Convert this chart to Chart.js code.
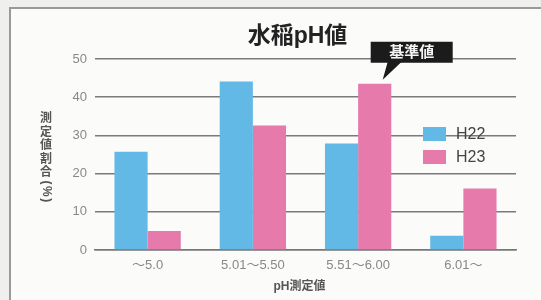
<!DOCTYPE html>
<html><head><meta charset="utf-8">
<script src="https://cdn.jsdelivr.net/npm/chart.js@4.4.1/dist/chart.umd.min.js"></script>
<style>
html,body{margin:0;padding:0;background:#efefed;}
#wrap{width:541px;height:300px;position:relative;}
</style></head>
<body><div id="wrap"><canvas id="c"></canvas></div>
<script>
const categories = ["～5.0", "5.01～5.50", "5.51～6.00", "6.01～"];
const seriesNames = ["H22", "H23"];
const valuesH22 = [25.7, 44.1, 27.9, 3.7];
const valuesH23 = [5.0, 32.6, 43.5, 16.1];
const yTicks = [0, 10, 20, 30, 40, 50];
const chartTitle = "水稲pH値";
const yTitle = "測定値割合(%)";
const xTitle = "pH測定値";
const calloutText = "基準値";

const FONT = "'Liberation Sans', 'Noto Sans CJK JP', sans-serif";
const BLUE = "#63b9e6";
const PINK = "#e67aaa";

const framePlugin = {
  id: 'frame',
  beforeDraw(chart) {
    const ctx = chart.ctx;
    ctx.save();
    ctx.fillStyle = '#efefed';
    ctx.fillRect(0, 0, chart.width, chart.height);
    ctx.fillStyle = '#fbfbfa';
    ctx.fillRect(10, 8, chart.width, chart.height);
    ctx.strokeStyle = '#9a9a9a';
    ctx.lineWidth = 2;
    ctx.beginPath();
    ctx.moveTo(10, chart.height + 2);
    ctx.lineTo(10, 8);
    ctx.lineTo(chart.width + 2, 8);
    ctx.stroke();
    ctx.restore();
  }
};

const textPlugin = {
  id: 'texts',
  afterDraw(chart) {
    const ctx = chart.ctx;
    const ca = chart.chartArea;
    ctx.save();
    // title
    ctx.fillStyle = '#222';
    ctx.font = "bold 23px " + FONT;
    ctx.textAlign = 'center';
    ctx.textBaseline = 'middle';
    ctx.fillText(chartTitle, (ca.left + ca.right) / 2 - 8, 37);
    // x title
    ctx.fillStyle = '#555';
    ctx.font = "bold 12px " + FONT;
    ctx.fillText(xTitle, (ca.left + ca.right) / 2 - 6, 287);
    // y title (vertical)
    ctx.font = "bold 12px " + FONT;
    let y = 119;
    const x = 46;
    for (const ch of yTitle) {
      if (/[()%]/.test(ch)) {
        ctx.save();
        const w = ctx.measureText(ch).width;
        ctx.translate(x, y + w / 2 - 6);
        ctx.rotate(Math.PI / 2);
        ctx.fillText(ch, 0, 0);
        ctx.restore();
        y += w + 1.5;
      } else {
        ctx.fillText(ch, x, y);
        y += 13.5;
      }
    }
    // legend
    const lx = ca.right - 93;
    let ly = 127;
    ctx.textAlign = 'left';
    ctx.font = "16px " + FONT;
    chart.data.datasets.forEach(ds => {
      ctx.fillStyle = ds.backgroundColor;
      ctx.fillRect(lx, ly, 23, 14);
      ctx.fillStyle = '#444';
      ctx.fillText(ds.label, lx + 33, ly + 8);
      ly += 23;
    });
    // callout on H23 bar of 3rd category
    const bar = chart.getDatasetMeta(1).data[2];
    const tx = bar.x + 8, ty = bar.y - 4;
    const bx = tx - 12, by = ty - 38, bw = 82, bh = 21;
    ctx.fillStyle = '#1b1b1b';
    ctx.beginPath();
    ctx.rect(bx, by, bw, bh);
    ctx.fill();
    ctx.beginPath();
    ctx.moveTo(tx + 5, by + bh - 1);
    ctx.lineTo(tx, ty);
    ctx.lineTo(tx + 19, by + bh - 1);
    ctx.closePath();
    ctx.fill();
    ctx.fillStyle = '#f4f4f4';
    ctx.font = "bold 15px " + FONT;
    ctx.textAlign = 'center';
    ctx.fillText(calloutText, bx + bw / 2, by + bh / 2 + 1);
    ctx.restore();
  }
};

new Chart(document.getElementById('c'), {
  type: 'bar',
  data: {
    labels: categories,
    datasets: [
      { label: seriesNames[0], data: valuesH22, backgroundColor: BLUE, borderWidth: 0 },
      { label: seriesNames[1], data: valuesH23, backgroundColor: PINK, borderWidth: 0 }
    ]
  },
  options: {
    responsive: true,
    maintainAspectRatio: false,
    animation: false,
    devicePixelRatio: 1,
    layout: { padding: { top: 59, right: 25, left: 0, bottom: 0 } },
    datasets: { bar: { categoryPercentage: 0.63, barPercentage: 1.0 } },
    plugins: { legend: { display: false }, title: { display: false }, tooltip: { enabled: false } },
    scales: {
      x: {
        grid: { display: false, drawTicks: false },
        border: { display: true, color: '#777', width: 1.5 },
        ticks: { color: '#888', font: { size: 13, family: FONT }, padding: 8 },
        afterFit(s) { s.height = 50; }
      },
      y: {
        min: 0, max: 50,
        afterBuildTicks(s) { s.ticks = yTicks.map(v => ({ value: v })); },
        grid: { color: '#7a7a7a', lineWidth: 1.5, drawTicks: false },
        border: { display: false },
        ticks: { color: '#888', font: { size: 13, family: FONT }, padding: 8 },
        afterFit(s) { s.width = 95; }
      }
    }
  },
  plugins: [framePlugin, textPlugin]
});
</script></body></html>
